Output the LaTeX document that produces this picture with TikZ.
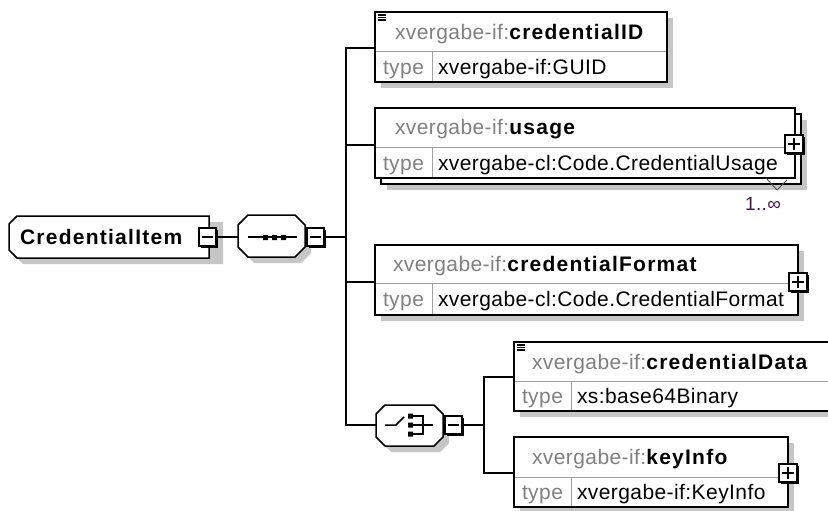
\documentclass[tikz,border=0pt]{standalone}
\usepackage{fontspec}
\setmainfont{Liberation Sans}
\newfontfamily\df{Liberation Sans}[LetterSpace=2, BoldFeatures={LetterSpace=6}]
\usetikzlibrary{calc}
\definecolor{shadowgrey}{RGB}{198,198,198}
\definecolor{divgrey}{RGB}{160,160,160}
\definecolor{pfxgrey}{RGB}{128,128,128}
\definecolor{occol}{RGB}{70,20,70}
\newcommand\octo[6]{%
  \path[#1] (#2+#6,#3) -- (#4-#6,#3) -- (#4,#3+#6) -- (#4,#5-#6) -- (#4-#6,#5) -- (#2+#6,#5) -- (#2,#5-#6) -- (#2,#3+#6) -- cycle;}
\newcommand\ebox[7]{%
  \fill[shadowgrey] (#2+6,#3+6) rectangle (#4+6,#5+6);
  \node[elemnode, minimum width={#4-#2}, minimum height={#5-#3}] (#1) at ({(#2+#4)/2},{(#3+#5)/2}) {};
  \draw[divline] (#2+1,#6) -- (#4-1,#6);
  \draw[divline] (#7,#6) -- (#7,#5-1);}
\newcommand\tgl[6]{%
  \fill[black] (#2+2,#3+2) rectangle (#4+2,#5+2);
  \node[tglnode, minimum width={#4-#2}, minimum height={#5-#3}] (#1) at ({(#2+#4)/2},{(#3+#5)/2}) {};
  \draw[line width=1.5] (#2+3,{(#3+#5)/2}) -- (#4-3,{(#3+#5)/2});
  \ifnum#6=1 \draw[line width=1.5] ({(#2+#4)/2},#3+3) -- ({(#2+#4)/2},#5-3);\fi}
\newcommand\docicon[2]{%
  \draw[line width=1.2] (#1,#2) -- (#1+8,#2) (#1,#2+2.5) -- (#1+8,#2+2.5) (#1,#2+5) -- (#1+8,#2+5);}
\begin{document}
\begin{tikzpicture}[x=1pt,y=-1pt,
  elemnode/.style={rectangle, draw=black, fill=white, line width=1.5, inner sep=0, outer sep=0},
  tglnode/.style={rectangle, draw=black, fill=white, line width=1.4, inner sep=0, outer sep=0},
  compnode/.style={rectangle, draw=none, inner sep=0, outer sep=0},
  divline/.style={draw=divgrey, line width=1},
  conn/.style={draw=black, line width=2, line join=miter},
  compshape/.style={draw=black, fill=white, line width=1.5},
  shadowshape/.style={fill=shadowgrey},
  txt/.style={anchor=base west, inner sep=0, outer sep=0, font=\df\fontsize{21}{24}\selectfont},
  nametxt/.style={txt, text=black},
  typetxt/.style={txt, text=pfxgrey},
  valtxt/.style={txt, text=black}]
\useasboundingbox (0,0) rectangle (828,511);
\clip (0,0) rectangle (828,511);

% ---- CredentialItem ----
\path[shadowshape] (223,222) -- (23,222) -- (15,230) -- (15,256) -- (23,264) -- (223,264) -- cycle;
\path[compshape] (209,216) -- (17,216) -- (9,224) -- (9,250) -- (17,258) -- (209,258) -- cycle;
\node[nametxt] (ci) at (20,244.5) {\textbf{CredentialItem}};
\tgl{ciminus}{199}{228}{216}{246}{0}

% ---- sequence ----
\octo{shadowshape}{244}{221}{311}{263}{10}
\octo{compshape}{238}{215}{305}{257}{10}
\node[compnode, minimum width=67, minimum height=42] (seqn) at (271.5,236) {};
\draw[line width=1.8] (248,237) -- (297,237);
\fill (263,235) rectangle (268,240) (272,235) rectangle (277,240) (281,235) rectangle (286,240);
\tgl{seqminus}{307}{228}{324}{246}{0}

% ---- choice ----
\octo{shadowshape}{382}{411}{449}{452}{9}
\octo{compshape}{376}{405}{443}{446}{9}
\node[compnode, minimum width=67, minimum height=41] (chn) at (409.5,425.5) {};
\draw[line width=1.5] (385,425) -- (396,425) -- (404,417);
\fill (408,413.5) rectangle (413,418.5) (408,422.5) rectangle (413,427.5) (408,431.5) rectangle (413,436.5);
\draw[line width=1.5] (413,416) -- (423,416) -- (423,434) -- (413,434) (413,425) -- (433,425);
\tgl{chminus}{445}{416}{462}{434}{0}

% ---- credentialID ----
\ebox{cid}{375}{12}{667}{82}{52}{432}
\docicon{378}{15}
\node[nametxt] (cidname) at (395,39.5) {\textcolor{pfxgrey}{xvergabe-if:}\textbf{credentialID}};
\node[typetxt] (cidtl) at (383,74.5) {type};
\node[valtxt] (cidtv) at (438,74.5) {xvergabe-if:GUID};

% ---- usage (repeated) ----
\fill[shadowgrey] (387,120) rectangle (807,190);
\draw[elemnode] (381,114) rectangle (801,184);
\node[elemnode, minimum width=420, minimum height=70] (use) at (585,143) {};
\draw[divline] (376,147) -- (794,147);
\draw[divline] (432,147) -- (432,177);
\draw[line width=0.9, draw=black!70] (766,178) -- (777,190) -- (787,180);
\node[nametxt] (usename) at (395,135) {\textcolor{pfxgrey}{xvergabe-if:}\textbf{usage}};
\node[typetxt] (usetl) at (383,170) {type};
\node[valtxt] (usetv) at (438,170) {xvergabe-cl:Code.CredentialUsage};
\tgl{useplus}{785}{135}{803}{153}{1}
\node[txt, anchor=base, text=occol, font=\df\fontsize{19}{22}\selectfont] (useocc) at (763,210) {1..∞};

% ---- credentialFormat ----
\ebox{cfmt}{375}{245}{798}{315}{283}{432}
\node[nametxt] (cfmtname) at (393,271.5) {\textcolor{pfxgrey}{xvergabe-if:}\textbf{credentialFormat}};
\node[typetxt] (cfmttl) at (383,306.5) {type};
\node[valtxt] (cfmttv) at (438,306.5) {xvergabe-cl:Code.CredentialFormat};
\tgl{fmtplus}{789}{273}{807}{291}{1}

% ---- credentialData ----
\ebox{cdata}{514}{342}{850}{411}{381}{571}
\docicon{517}{345}
\node[nametxt] (cdataname) at (532,369) {\textcolor{pfxgrey}{xvergabe-if:}\textbf{credentialData}};
\node[typetxt] (cdatatl) at (522,403.5) {type};
\node[valtxt] (cdatatv) at (577,403.5) {xs:base64Binary};

% ---- keyInfo ----
\ebox{kinfo}{514}{437}{788}{507}{477}{571}
\node[nametxt] (kinfoname) at (532,464.5) {\textcolor{pfxgrey}{xvergabe-if:}\textbf{keyInfo}};
\node[typetxt] (kinfotl) at (522,499.5) {type};
\node[valtxt] (kinfotv) at (577,499.5) {xvergabe-if:KeyInfo};
\tgl{keyplus}{779}{464}{797}{482}{1}

% ---- connectors ----
\coordinate (j1) at (346,48);
\coordinate (j2) at (346,145);
\coordinate (jm) at (346,237);
\coordinate (j3) at (346,282);
\coordinate (j4) at (346,425);
\coordinate (k1) at (484,377);
\coordinate (km) at (484,425);
\coordinate (k2) at (484,473);
\draw[conn] (ciminus.east) -- (ciminus.east -| seqn.west);
\draw[conn] (seqminus.east) -- (jm);
\draw[conn] (cid.west |- j1) -- (j1) -- (j4) -- (chn.west |- j4);
\draw[conn] (j2) -- (use.west |- j2);
\draw[conn] (j3) -- (cfmt.west |- j3);
\draw[conn] (chminus.east) -- (km);
\draw[conn] (cdata.west |- k1) -- (k1) -- (k2) -- (kinfo.west |- k2);
\end{tikzpicture}
\end{document}
